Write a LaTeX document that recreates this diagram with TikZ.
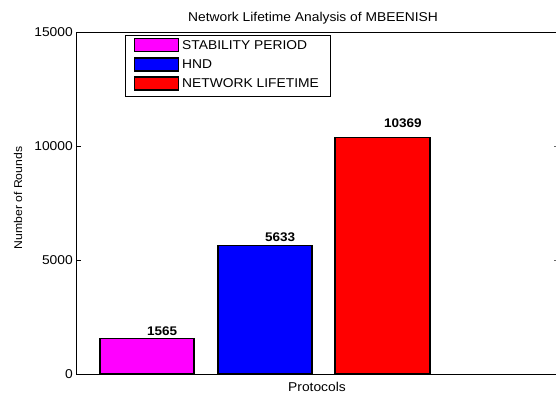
\documentclass[tikz,border=0pt]{standalone}
\usepackage{fontspec}
\setmainfont{Liberation Sans}[FakeStretch=1.08]
\definecolor{mlmagenta}{rgb}{1,0,1}
\definecolor{mlblue}{rgb}{0,0,1}
\definecolor{mlred}{rgb}{1,0,0}
\begin{document}
\begin{tikzpicture}[x=1pt,y=-1pt,
  lbl/.style={font=\fontsize{12.8}{14}\selectfont, inner sep=0pt},
  vallbl/.style={font=\fontsize{12.5}{14}\selectfont\bfseries, inner sep=0pt, anchor=west},
  bar/.style={draw=black, line width=1.6pt},
  axisline/.style={draw=black, line width=1pt},
  sw/.style={draw=black, line width=1.4pt, minimum width=44pt, minimum height=13pt, inner sep=0pt}]
\useasboundingbox (0,0) rectangle (556,394);
\clip (0,0) rectangle (556,394);
\fill[white] (0,0) rectangle (556,394);
% title
\node[lbl] (title) at (313,18) {Network Lifetime Analysis of MBEENISH};
% bars
\filldraw[bar, fill=mlmagenta] (100,374) rectangle (194,338.3);
\filldraw[bar, fill=mlblue] (218,374) rectangle (312,245.6);
\filldraw[bar, fill=mlred] (335,374) rectangle (430,137.6);
% axes
\draw[axisline] (560,32) -- (76,32) -- (76,374) -- (560,374);
\draw[axisline] (76,146) -- (81,146);
\draw[axisline] (76,260) -- (81,260);
\draw[axisline, black!60] (554,146) -- (560,146);
\draw[axisline, black!60] (554,260) -- (560,260);
% tick labels
\node[lbl, anchor=east] (t15) at (73,32) {15000};
\node[lbl, anchor=east] (t10) at (73,146) {10000};
\node[lbl, anchor=east] (t5) at (73,260) {5000};
\node[lbl, anchor=east] (t0) at (73,374) {0};
% axis labels
\node[font=\fontsize{11.3}{13}\selectfont, inner sep=0pt, rotate=90] (ylab) at (18,198) {Number of Rounds};
\node[lbl] (xlab) at (317,387) {Protocols};
% value labels
\node[vallbl] (v1) at (147,331) {1565};
\node[vallbl] (v2) at (265,237) {5633};
\node[vallbl] (v3) at (384,123) {10369};
% legend
\draw[black, line width=1pt, fill=white] (125,35) rectangle (330,96);
\node[sw, fill=mlmagenta] (s1) at (156.5,45) {};
\node[sw, fill=mlblue] (s2) at (156.5,64.5) {};
\node[sw, fill=mlred] (s3) at (156.5,83.5) {};
\node[lbl, anchor=west] (l1) at (182,45) {STABILITY PERIOD};
\node[lbl, anchor=west] (l2) at (182,64.5) {HND};
\node[lbl, anchor=west] (l3) at (182,83.5) {NETWORK LIFETIME};
\end{tikzpicture}
\end{document}
